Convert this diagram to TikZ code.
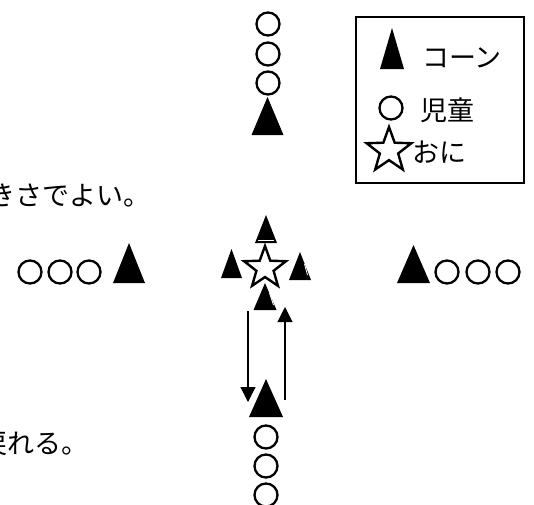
\documentclass[tikz,border=0pt]{standalone}
\usepackage{fontspec}
\newfontfamily\jp{Noto Sans CJK JP}
\usetikzlibrary{arrows.meta}
\tikzset{
  pics/cone/.style n args={2}{code={\fill[black] (-#1/2,0) -- (#1/2,0) -- (0,-#2) -- cycle;}},
  pics/onistar/.style={code={\draw[line width=2.4pt, fill=white, line join=miter]
      plot[samples at={0,...,9}] ({-90+36*\x}:{ifthenelse(mod(\x,2)==0,#1,#1*0.41)}) -- cycle;}},
  kid/.style={circle, draw, line width=2.3pt, minimum size=23pt, inner sep=0pt},
  jptext/.style={font=\jp\fontsize{27pt}{27pt}\selectfont, inner sep=0pt, anchor=base west},
  legtext/.style={font=\jp\fontsize{27pt}{27pt}\selectfont, inner sep=0pt, anchor=base west},
  run/.style={line width=1.1pt, -{Triangle[width=15pt,length=15pt]}},
  stripe/.style={white, line width=0.8pt},
}
\begin{document}
\begin{tikzpicture}[x=1pt, y=-1pt]
\useasboundingbox (0,0) rectangle (534,504);

% top column
\node[kid] (t1) at (268,24) {};
\node[kid] (t2) at (268,54) {};
\node[kid] (t3) at (268,83) {};
\pic at (267.5,135) {cone={32}{38}};

% legend
\node[draw, line width=1.6pt, minimum width=168pt, minimum height=166pt, inner sep=0pt] (legend) at (440,100) {};
\pic at (392,69) {cone={24}{41}};
\node[legtext] (lcone) at (422,67.5) {コーン};
\node[kid] (lkid) at (391,108) {};
\node[legtext] (lkidt) at (420,120.5) {児童};
\pic at (389,150.5) {onistar=23.5};
\node[legtext] (loni) at (412,162.5) {おに};

% texts
\node[jptext] (txt1) at (-12,205) {きさでよい。};
\node[jptext] (txt2) at (-20,453) {戻れる。};

% left row
\node[kid] (l1) at (30,272) {};
\node[kid] (l2) at (60,272) {};
\node[kid] (l3) at (89,272) {};
\pic at (129,283) {cone={32}{40}};

% right row
\pic at (413.5,283) {cone={33}{38}};
\node[kid] (r1) at (447,272) {};
\node[kid] (r2) at (478,272) {};
\node[kid] (r3) at (508,272) {};

% centre
\pic at (266,243) {cone={22}{28}};
\draw[stripe] (258,240) -- (274,240);
\pic at (231.5,278) {cone={21}{29}};
\pic at (300,280) {cone={22}{28}};
\draw[stripe] (304.5,264) -- (307.5,275);
\pic at (265,310) {cone={23}{27}};
\draw[stripe] (269.5,293) -- (273.5,305);
\pic at (265,268) {onistar=22};

% run arrows
\coordinate (a1s) at (248,311);
\coordinate (a1e) at (248,402);
\coordinate (a2s) at (285,400);
\coordinate (a2e) at (285,307);
\draw[run] (a1s) -- (a1e);
\draw[run] (a2s) -- (a2e);

% bottom column
\pic at (266,417) {cone={34}{38}};
\node[kid] (b1) at (266,437) {};
\node[kid] (b2) at (266,466) {};
\node[kid] (b3) at (266,495) {};
\end{tikzpicture}
\end{document}
